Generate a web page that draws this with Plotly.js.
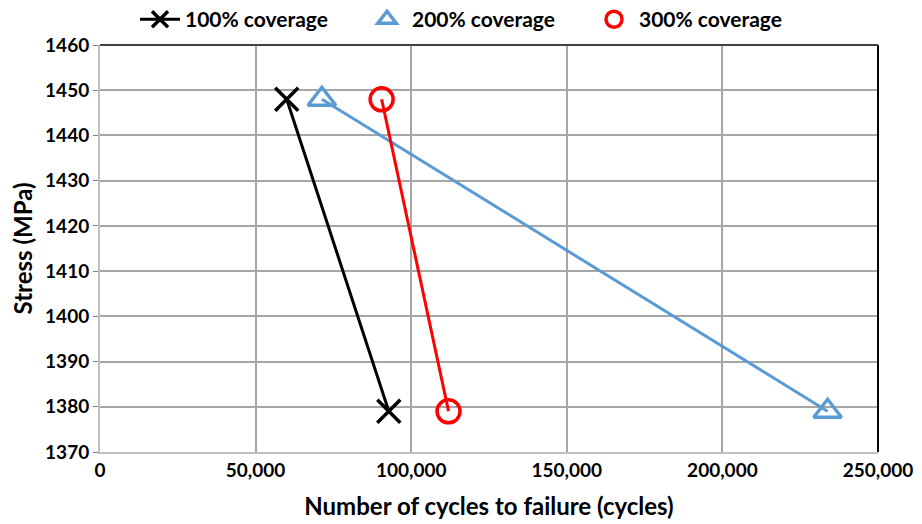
<!DOCTYPE html>
<html><head><meta charset="utf-8">
<script src="https://cdn.plot.ly/plotly-3.0.1.min.js"></script>
<style>body{margin:0;background:#fff}#c{width:922px;height:524px}</style>
</head><body><div id="c"></div>
<script>
const stress = [1448, 1379];
const cycles100 = [60000, 92800];
const cycles200 = [71300, 233800];
const cycles300 = [90500, 112000];
const names = ['100% coverage', '200% coverage', '300% coverage'];
const xTicks = [0, 50000, 100000, 150000, 200000, 250000];
const xTickText = ['0', '50,000', '100,000', '150,000', '200,000', '250,000'];
const yTicks = [1370, 1380, 1390, 1400, 1410, 1420, 1430, 1440, 1450, 1460];

const F = 'Lato, "Open Sans", sans-serif';
const traces = [
  {x: cycles100, y: stress, name: names[0], mode: 'lines+markers',
   line: {color: '#000000', width: 3},
   marker: {symbol: 'x-thin-open', size: 23, color: '#000000', line: {color: '#000000', width: 3.5}}},
  {x: cycles200, y: stress, name: names[1], mode: 'lines', showlegend: false,
   line: {color: '#5b9bd5', width: 3}},
  {x: cycles200, y: stress, name: names[1], mode: 'markers',
   marker: {symbol: 'triangle-up-open', size: 24, color: '#5b9bd5', line: {color: '#5b9bd5', width: 3.5}}},
  {x: cycles300, y: stress, name: names[2], mode: 'lines', showlegend: false,
   line: {color: '#ff0000', width: 3}},
  {x: cycles300, y: stress, name: names[2], mode: 'markers',
   marker: {symbol: 'circle-open', size: 23, color: '#ff0000', line: {color: '#ff0000', width: 3.5}}}
];
const layout = {
  width: 922, height: 524,
  margin: {l: 100, r: 44, t: 45, b: 72, autoexpand: false},
  paper_bgcolor: '#ffffff', plot_bgcolor: '#ffffff',
  font: {family: F, color: '#000000', size: 15},
  showlegend: true,
  legend: {orientation: 'h', x: 0.045, xanchor: 'left', y: 1.012, yanchor: 'bottom',
           entrywidth: 172, entrywidthmode: 'pixels',
           font: {family: F, size: 21, color: '#000', weight: 'bold'}, itemwidth: 40, traceorder: 'normal'},
  xaxis: {range: [0, 250000], tickvals: xTicks, ticktext: xTickText,
          showgrid: true, gridcolor: '#a6a6a6', gridwidth: 2,
          showline: true, linecolor: '#bfbfbf', linewidth: 2, ticks: '', zeroline: false,
          tickfont: {family: F, size: 19, color: '#000', weight: 'bold'},
          title: {text: 'Number of cycles to failure (cycles)', standoff: 18,
                  font: {family: F, size: 24, color: '#000', weight: 'bold'}}},
  yaxis: {range: [1370, 1460], tickvals: yTicks,
          showgrid: true, gridcolor: '#a6a6a6', gridwidth: 2,
          showline: true, linecolor: '#bfbfbf', linewidth: 2, ticks: 'outside', ticklen: 5,
          tickcolor: '#7f7f7f', zeroline: false,
          tickfont: {family: F, size: 19, color: '#000', weight: 'bold'},
          title: {text: 'Stress (MPa)', standoff: 6,
                  font: {family: F, size: 24, color: '#000', weight: 'bold'}}},
  shapes: [
    {type: 'line', xref: 'paper', yref: 'paper', x0: 1, x1: 1, y0: 0, y1: 1,
     line: {color: '#000000', width: 2}},
    {type: 'line', xref: 'paper', yref: 'paper', x0: 0, x1: 1, y0: 1, y1: 1,
     line: {color: '#404040', width: 2}}
  ]
};
Plotly.newPlot('c', traces, layout, {displayModeBar: false, staticPlot: true});
</script></body></html>
